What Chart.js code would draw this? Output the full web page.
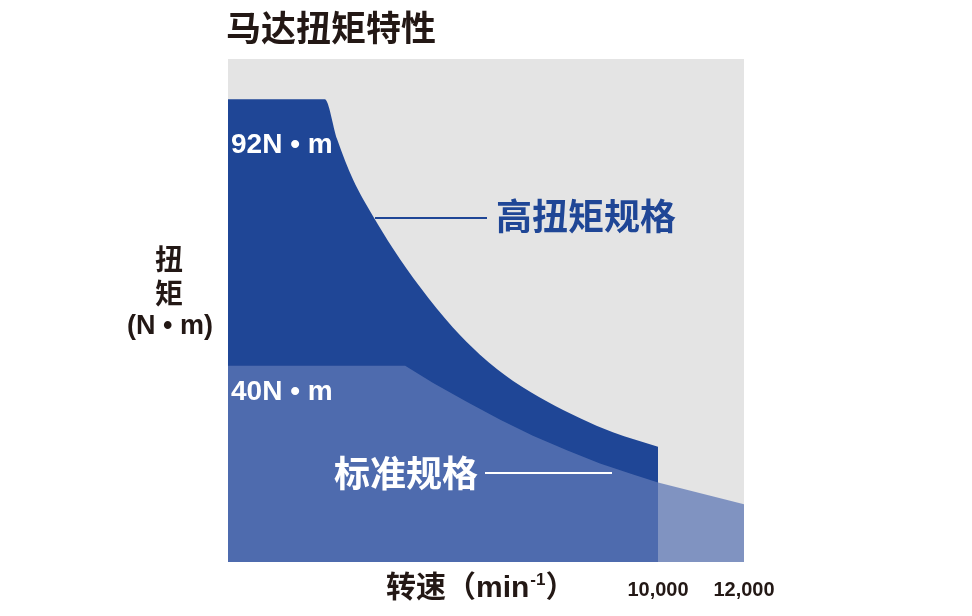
<!DOCTYPE html>
<html>
<head>
<meta charset="utf-8">
<script src="https://cdn.jsdelivr.net/npm/chart.js@4/dist/chart.umd.min.js"></script>
<style>
  html, body { margin: 0; padding: 0; background: #fff; }
  #wrap { width: 972px; height: 616px; }
</style>
</head>
<body>
<div id="wrap"><canvas id="torqueChart"></canvas></div>
<script>
// 高扭矩规格 (rpm / N·m)
const highRpm = [0, 2250, 2540, 2910, 3370, 3840, 4470, 5230, 5860, 6260, 6630, 7420, 8190, 8950, 10000];
const highTorque = [92, 92, 84, 76, 68.8, 62.3, 54.6, 46.6, 41.2, 38.3, 36, 31.9, 28.6, 25.8, 22.9];
// 标准规格
const stdRpm = [0, 4120, 4770, 5560, 6330, 7090, 7880, 8650, 9420, 10000, 12000];
const stdTorque = [39, 39, 35.6, 31.8, 28.3, 25.1, 22.2, 19.6, 17.4, 15.8, 11.5];
const xTicks = [10000, 12000];

const dark = '#1f4696';
const ink = '#231815';
const cjk = '"Liberation Sans", "Noto Sans CJK SC", sans-serif';

const toPoints = (xs, ys) => xs.map((x, i) => ({ x: x, y: ys[i] }));

const plotBg = {
    id: 'plotBg',
    beforeDraw(chart) {
        const { ctx, chartArea: a } = chart;
        ctx.save();
        ctx.fillStyle = '#e4e4e4';
        ctx.fillRect(a.left, a.top, a.right - a.left, a.bottom - a.top);
        ctx.restore();
    }
};

const labels = {
    id: 'labels',
    afterDraw(chart) {
        const ctx = chart.ctx;
        ctx.save();
        ctx.textBaseline = 'middle';

        // title
        ctx.fillStyle = ink;
        ctx.textAlign = 'left';
        ctx.font = 'bold 35px ' + cjk;
        ctx.fillText('马达扭矩特性', 226, 31);

        // y title
        ctx.textAlign = 'center';
        ctx.font = 'bold 28px ' + cjk;
        ctx.fillText('扭', 169, 262);
        ctx.fillText('矩', 169, 296);
        ctx.font = 'bold 27px ' + cjk;
        ctx.fillText('(N • m)', 170, 327);

        // x title
        ctx.textAlign = 'left';
        ctx.font = 'bold 30px ' + cjk;
        let x = 386;
        const y = 589;
        ctx.fillText('转速（min', x, y);
        x += ctx.measureText('转速（min').width;
        ctx.font = 'bold 17px ' + cjk;
        ctx.fillText('-1', x + 1, y - 9);
        x += ctx.measureText('-1').width + 1;
        ctx.font = 'bold 30px ' + cjk;
        ctx.fillText('）', x, y);

        // value labels
        ctx.fillStyle = '#fff';
        ctx.textBaseline = 'alphabetic';
        ctx.font = 'bold 28px ' + cjk;
        ctx.fillText('92N • m', 231, 153);
        ctx.fillText('40N • m', 231, 400);

        // series labels + leader lines
        ctx.textBaseline = 'middle';
        ctx.font = 'bold 36px ' + cjk;
        ctx.fillStyle = dark;
        ctx.fillText('高扭矩规格', 496, 220);
        ctx.fillStyle = '#fff';
        ctx.fillText('标准规格', 334, 477);

        ctx.lineWidth = 2;
        ctx.strokeStyle = dark;
        ctx.beginPath();
        ctx.moveTo(375, 218);
        ctx.lineTo(487, 218);
        ctx.stroke();
        ctx.strokeStyle = '#fff';
        ctx.beginPath();
        ctx.moveTo(485, 473);
        ctx.lineTo(612, 473);
        ctx.stroke();
        ctx.restore();
    }
};

new Chart(document.getElementById('torqueChart'), {
    type: 'line',
    data: {
        datasets: [
            {
                label: '标准规格',
                data: toPoints(stdRpm, stdTorque),
                backgroundColor: 'rgba(95, 120, 182, 0.75)',
                borderWidth: 0,
                pointRadius: 0,
                fill: 'origin',
                tension: 0,
                order: 0
            },
            {
                label: '高扭矩规格',
                data: toPoints(highRpm, highTorque),
                backgroundColor: dark,
                borderWidth: 0,
                pointRadius: 0,
                fill: 'origin',
                cubicInterpolationMode: 'monotone',
                order: 1
            }
        ]
    },
    options: {
        responsive: true,
        maintainAspectRatio: false,
        animation: false,
        layout: { padding: { left: 228, right: 228, top: 59, bottom: 0 } },
        plugins: {
            legend: { display: false },
            tooltip: { enabled: false }
        },
        scales: {
            x: {
                type: 'linear',
                min: 0,
                max: 12000,
                grid: { display: false, drawTicks: false },
                border: { display: false },
                afterBuildTicks: axis => { axis.ticks = xTicks.map(v => ({ value: v })); },
                afterFit: axis => { axis.height = 54; },
                ticks: {
                    padding: 16,
                    maxRotation: 0,
                    color: ink,
                    font: { family: 'Liberation Sans', weight: 'bold', size: 20 },
                    callback: v => v.toLocaleString('en-US')
                }
            },
            y: {
                display: false,
                min: 0,
                max: 100
            }
        }
    },
    plugins: [plotBg, labels]
});
</script>
</body>
</html>
